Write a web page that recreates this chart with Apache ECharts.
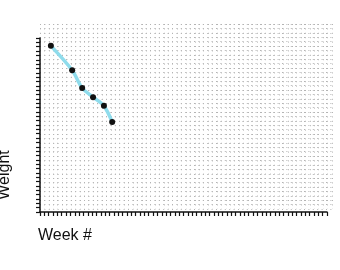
<!DOCTYPE html>
<html>
<head>
<meta charset="utf-8">
<script src="https://cdn.jsdelivr.net/npm/echarts@6/dist/echarts.min.js"></script>
<style>
  html, body { margin: 0; padding: 0; background: #fff; }
  #main { width: 340px; height: 270px; }
</style>
</head>
<body>
<div id="main"></div>
<script>
// weigh-ins: week number vs weight (axis has no printed numbers)
const weeks = [2.5, 7.4, 9.7, 12.2, 14.7, 16.6];
const weights = [38.2, 32.6, 28.5, 26.4, 24.4, 20.7];
const xLabel = 'Week #';
const yLabel = 'Weight';

const points = weeks.map((w, i) => [w, weights[i]]);

const chart = echarts.init(document.getElementById('main'));

const dots = { show: true, lineStyle: { color: '#b4b4b4', width: 1, type: [1, 3.4] } };

const option = {
  animation: false,
  grid: [
    // graph paper background
    { left: 40, top: 24, width: 292, height: 185 },
    // actual axes
    { left: 40, top: 38, right: 13, bottom: 58 }
  ],
  xAxis: [
    {
      gridIndex: 0, type: 'value', min: 0, max: 66, interval: 1,
      axisLine: { show: false }, axisTick: { show: false }, axisLabel: { show: false },
      splitLine: dots
    },
    {
      gridIndex: 1, type: 'value', min: 0, max: 66, interval: 1,
      axisLine: { show: true, onZero: false, lineStyle: { color: '#111', width: 1.5 } },
      axisTick: { show: true, length: 4, lineStyle: { color: '#111', width: 1.2 } },
      axisLabel: { show: false },
      splitLine: { show: false }
    }
  ],
  yAxis: [
    {
      gridIndex: 0, type: 'value', min: 0, max: 42, interval: 1,
      axisLine: { show: false }, axisTick: { show: false }, axisLabel: { show: false },
      splitLine: dots
    },
    {
      gridIndex: 1, type: 'value', min: 0, max: 40, interval: 1,
      axisLine: { show: true, onZero: false, lineStyle: { color: '#111', width: 1.5 } },
      axisTick: { show: true, length: 4, lineStyle: { color: '#111', width: 1.2 } },
      axisLabel: { show: false },
      splitLine: { show: false }
    }
  ],
  graphic: [
    {
      type: 'text', left: 38, top: 228,
      style: { text: xLabel, fontSize: 16, fontFamily: 'Liberation Sans, Arial, sans-serif', fill: '#111' }
    },
    {
      type: 'text', x: 13, y: 175, rotation: Math.PI / 2,
      style: {
        text: yLabel, fontSize: 16, fontFamily: 'Liberation Sans, Arial, sans-serif', fill: '#111',
        align: 'center', verticalAlign: 'bottom'
      }
    }
  ],
  series: [
    {
      type: 'line',
      xAxisIndex: 1, yAxisIndex: 1,
      data: points,
      smooth: 0.3,
      symbol: 'circle',
      symbolSize: 6,
      lineStyle: { color: '#8fdcec', width: 3.5 },
      itemStyle: { color: '#111' },
      z: 5
    }
  ]
};

chart.setOption(option);
</script>
</body>
</html>
